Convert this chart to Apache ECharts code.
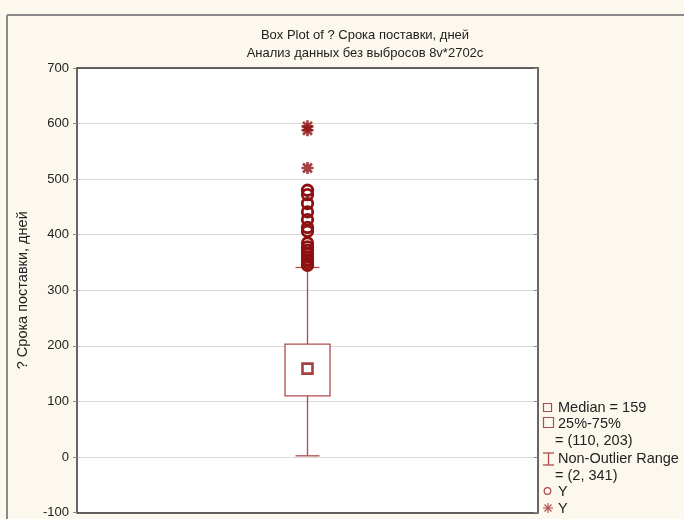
<!DOCTYPE html>
<html>
<head>
<meta charset="utf-8">
<script src="https://cdn.jsdelivr.net/npm/echarts@6/dist/echarts.min.js"></script>
<style>
html,body{margin:0;padding:0;background:#fcf8ee;}
#c{width:684px;height:519px;}
</style>
</head>
<body>
<div id="c"></div>
<script>
var categories = ['Y'];
var boxStats = [[2, 110, 159, 203, 341]]; // min, q1, median, q3, max (non-outlier)
var outliers = [345, 350, 355, 360, 366, 372, 378, 385, 406, 413, 427, 441, 456, 472, 480];
var extremes = [520, 588, 595];
var yTicks = { min: -100, max: 700, interval: 100 };

var FONT = '"Liberation Sans", Arial, sans-serif';
var boxColor = '#b04c4c';
var darkRed = '#8e1010';
var frameColor = '#333';
var asteriskPath = 'path://M0,-6L0,6M-6,0L6,0M-4.5,-4.5L4.5,4.5M-4.5,4.5L4.5,-4.5';

var chart = echarts.init(document.getElementById('c'), null, {renderer: 'canvas'});

function seg(x1, y1, x2, y2, w) {
  return { type: 'line', shape: { x1: x1, y1: y1, x2: x2, y2: y2 }, style: { stroke: boxColor, lineWidth: w || 1.2 } };
}
function txt(x, y, s) {
  return { type: 'text', x: x, y: y, style: { text: s, font: '14.5px ' + FONT, fill: '#222' } };
}
var frameLine = { show: true, onZero: false, lineStyle: { color: frameColor, width: 1.5 } };

var option = {
  backgroundColor: '#fcf8ee',
  animation: false,
  title: {
    text: 'Box Plot of ? Срока поставки, дней\nАнализ данных без выбросов 8v*2702c',
    left: 360, top: 21, textAlign: 'center',
    textStyle: { fontFamily: FONT, fontSize: 13, fontWeight: 'normal', color: '#222', lineHeight: 18 }
  },
  grid: {
    left: 77, right: 146, top: 68, bottom: 6,
    show: true, backgroundColor: '#ffffff', borderWidth: 0
  },
  xAxis: [{
    type: 'category', data: categories, position: 'bottom',
    axisLine: frameLine, axisTick: { show: false }, axisLabel: { show: false },
    splitLine: { show: false }
  }, {
    type: 'category', data: categories, position: 'top',
    axisLine: frameLine, axisTick: { show: false }, axisLabel: { show: false },
    splitLine: { show: false }
  }],
  yAxis: [{
    type: 'value', min: yTicks.min, max: yTicks.max, interval: yTicks.interval,
    name: '? Срока поставки, дней', nameLocation: 'middle', nameGap: 47,
    nameTextStyle: { fontFamily: FONT, fontSize: 14.5, color: '#222' },
    axisLine: frameLine,
    axisTick: { show: true, length: 4, lineStyle: { color: '#888' } },
    axisLabel: { fontFamily: FONT, fontSize: 13, color: '#222', margin: 8 },
    splitLine: { show: true, lineStyle: { color: '#d8d8d8', width: 1 } }
  }, {
    type: 'value', position: 'right', min: yTicks.min, max: yTicks.max, interval: yTicks.interval,
    axisLine: frameLine,
    axisTick: { show: true, inside: true, length: 4, lineStyle: { color: '#888' } },
    axisLabel: { show: false }, splitLine: { show: false }
  }],
  series: [{
    type: 'custom',
    data: boxStats.map(function (s, i) { return [i].concat(s); }),
    renderItem: function (params, api) {
      var x = api.value(0);
      var pMin = api.coord([x, api.value(1)]);
      var pQ1 = api.coord([x, api.value(2)]);
      var pQ3 = api.coord([x, api.value(4)]);
      var pMax = api.coord([x, api.value(5)]);
      var cx = pQ1[0];
      var bw = 45, cw = 24;
      var ls = { stroke: boxColor, lineWidth: 1.3, fill: null };
      return {
        type: 'group',
        children: [
          { type: 'line', shape: { x1: cx, y1: pQ3[1], x2: cx, y2: pMax[1] }, style: ls },
          { type: 'line', shape: { x1: cx, y1: pQ1[1], x2: cx, y2: pMin[1] }, style: ls },
          { type: 'line', shape: { x1: cx - cw / 2, y1: pMax[1], x2: cx + cw / 2, y2: pMax[1] }, style: ls },
          { type: 'line', shape: { x1: cx - cw / 2, y1: pMin[1], x2: cx + cw / 2, y2: pMin[1] }, style: ls },
          { type: 'rect', shape: { x: cx - bw / 2, y: pQ3[1], width: bw, height: pQ1[1] - pQ3[1] }, style: { stroke: boxColor, lineWidth: 1.3, fill: '#fff' } }
        ]
      };
    },
    z: 2
  }, {
    type: 'scatter',
    data: boxStats.map(function (s, i) { return [i, s[2]]; }),
    symbol: 'rect', symbolSize: 10,
    itemStyle: { color: 'rgba(0,0,0,0)', borderColor: darkRed, borderWidth: 2.6 },
    z: 3
  }, {
    type: 'scatter',
    data: outliers.map(function (v) { return [0, v]; }),
    symbol: 'circle', symbolSize: 10.5,
    itemStyle: { color: 'rgba(0,0,0,0)', borderColor: darkRed, borderWidth: 2.8, opacity: 1 },
    z: 4
  }, {
    type: 'scatter',
    data: extremes.map(function (v) { return [0, v]; }),
    symbol: asteriskPath, symbolSize: 12,
    itemStyle: { color: darkRed, borderColor: darkRed, borderWidth: 2.6 },
    z: 4
  }],
  graphic: [
    { type: 'line', shape: { x1: 7, y1: 15, x2: 684, y2: 15 }, style: { stroke: '#8a8a8a', lineWidth: 2 } },
    { type: 'line', shape: { x1: 7, y1: 15, x2: 7, y2: 519 }, style: { stroke: '#8a8a8a', lineWidth: 2 } },
    { type: 'rect', shape: { x: 543.5, y: 403.5, width: 8, height: 8 }, style: { stroke: boxColor, fill: null, lineWidth: 1.2 } },
    txt(558, 400, 'Median = 159'),
    { type: 'rect', shape: { x: 543.5, y: 417.5, width: 10, height: 10 }, style: { stroke: boxColor, fill: null, lineWidth: 1.2 } },
    txt(558, 416, '25%-75%'),
    txt(555, 433, '= (110, 203)'),
    seg(548.5, 453, 548.5, 465, 1.3),
    seg(543, 453, 554, 453, 1.3),
    seg(543, 465, 554, 465, 1.3),
    txt(558, 451, 'Non-Outlier Range'),
    txt(555, 468, '= (2, 341)'),
    { type: 'circle', shape: { cx: 547.5, cy: 491, r: 3.3 }, style: { stroke: boxColor, fill: null, lineWidth: 1.2 } },
    txt(558, 484, 'Y'),
    seg(548, 503, 548, 513, 1.1),
    seg(543, 508, 553, 508, 1.1),
    seg(544.5, 504.5, 551.5, 511.5, 1.1),
    seg(544.5, 511.5, 551.5, 504.5, 1.1),
    txt(558, 501, 'Y')
  ]
};
chart.setOption(option);
</script>
</body>
</html>
